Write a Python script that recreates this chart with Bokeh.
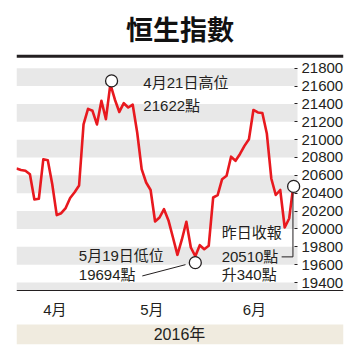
from bokeh.plotting import figure
from bokeh.models import Range1d, FixedTicker, BoxAnnotation, Label
from bokeh.embed import file_html
from bokeh.resources import INLINE

# ---------------- data ----------------
title_text = "恒生指數"
dates = ["3/18", "3/21", "3/22", "3/23", "3/24", "3/29", "3/30", "3/31",
         "4/1", "4/5", "4/6", "4/7", "4/8", "4/11", "4/12", "4/13", "4/14", "4/15",
         "4/18", "4/19", "4/20", "4/21", "4/22", "4/25", "4/26", "4/27", "4/28", "4/29",
         "5/3", "5/4", "5/5", "5/6", "5/9", "5/10", "5/11", "5/12", "5/13",
         "5/16", "5/17", "5/18", "5/19", "5/20", "5/23", "5/24", "5/25", "5/26", "5/27",
         "5/30", "5/31", "6/1", "6/2", "6/3", "6/6", "6/7", "6/8", "6/9", "6/10",
         "6/13", "6/14", "6/15", "6/16", "6/17", "6/20"]
hsi = [20677, 20660, 20651, 20613, 20330, 20337, 20781, 20770,
       20500, 20154, 20176, 20234, 20346, 20410, 20486, 21170, 21345, 21323,
       21170, 21435, 21229, 21622, 21450, 21310, 21408, 21360, 21391, 21080,
       20669, 20520, 20436, 20083, 20128, 20221, 20095, 19904, 19710,
       19882, 20080, 19792, 19694, 19818, 19773, 19811, 20352, 20378, 20557,
       20595, 20809, 20763, 20840, 20930, 21005, 21332, 21304, 21298, 21069,
       20565, 20380, 20436, 20016, 20117, 20510]
y_ticks = [19400, 19600, 19800, 20000, 20200, 20400, 20600, 20800,
           21000, 21200, 21400, 21600, 21800]
month_labels = ["4月", "5月", "6月"]
year_label = "2016年"
high_text = ["4月21日高位", "21622點"]
low_text = ["5月19日低位", "19694點"]
last_text = ["昨日收報", "20510點", "升340點"]

# ---------------- layout ----------------
W, H = 358, 356
FRAME_L, FRAME_T, FW, FH = 16, 52, 327, 290
PLOT_R = 297                        # right edge of the striped area
PLOT_B = 288                        # bottom rule
PX_IDX = 4.47                       # px per trading day
PPU = (280 - 65.7) / 2400.0         # px per index point
Y_TOP = 21800 + (65.7 - FRAME_T) / PPU
Y_BOT = Y_TOP - FH / PPU
month_pos = [8.6, 30.3, 53.2]

INK = "#231f20"
RED = "#e8191f"
BAND = "#e8e8e8"
BEIGE = "#f0ebdf"
FONT = "Liberation Sans, Noto Sans CJK TC"
CJK = "Noto Sans CJK TC"


def cx(px):
    return (px - FRAME_L) / PX_IDX


def cy(py):
    return Y_TOP - (py - FRAME_T) / PPU


p = figure(frame_width=FW, frame_height=FH,
           min_border_left=FRAME_L, min_border_right=W - FRAME_L - FW,
           min_border_top=FRAME_T, min_border_bottom=H - FRAME_T - FH,
           x_range=Range1d(0, FW / PX_IDX), y_range=Range1d(Y_BOT, Y_TOP),
           y_axis_location="right", output_backend="svg", toolbar_location=None,
           background_fill_color="white", border_fill_color="white",
           outline_line_color=None)
p.grid.visible = False

# title
p.title.text = title_text
p.title.align = "center"
p.title.text_font = CJK
p.title.text_font_style = "bold"
p.title.text_font_size = "27px"
p.title.text_color = "#111111"
p.title.standoff = 13

# stripes
for v in range(19200, 21800, 400):
    p.add_layout(BoxAnnotation(left=None, right=cx(PLOT_R),
                               bottom=max(v, cy(PLOT_B)), top=v + 200,
                               fill_color=BAND, fill_alpha=1, line_color=None,
                               level="underlay"))

# rules and year band
p.add_layout(BoxAnnotation(top=None, bottom=cy(55.3), fill_color=INK, fill_alpha=1,
                           line_color=None))
p.add_layout(BoxAnnotation(top=cy(PLOT_B - 0.6), bottom=cy(PLOT_B + 0.6),
                           fill_color=INK, fill_alpha=1, line_color=None))
p.add_layout(BoxAnnotation(top=cy(322), bottom=None, fill_color=BEIGE, fill_alpha=1,
                           line_color=None, level="underlay"))

# axes
ya = p.yaxis[0]
ya.ticker = FixedTicker(ticks=y_ticks)
ya.axis_line_color = None
ya.major_tick_in = 49
ya.major_tick_out = -(FRAME_L + FW - PLOT_R)
ya.major_tick_line_color = INK
ya.minor_tick_line_color = None
ya.major_label_standoff = -42
ya.major_label_text_font = FONT
ya.major_label_text_font_size = "15px"
ya.major_label_text_color = INK

xa = p.xaxis[0]
xa.ticker = FixedTicker(ticks=month_pos)
xa.major_label_overrides = {pos: lab for pos, lab in zip(month_pos, month_labels)}
xa.axis_line_color = None
xa.major_tick_line_color = None
xa.major_tick_out = 0
xa.major_tick_in = 0
xa.minor_tick_line_color = None
xa.major_label_standoff = -44
xa.major_label_text_font = FONT
xa.major_label_text_font_size = "15px"
xa.major_label_text_color = INK

# index line
xs = list(range(len(hsi)))
p.line(xs, hsi, line_color=RED, line_width=2.6, line_join="round")

hi_i = hsi.index(max(hsi))
lo_i = hsi.index(min(hsi))
la_i = len(hsi) - 1


def dx(px):
    return px / PX_IDX


def dy(px):  # canvas px downward -> data units
    return -px / PPU


# leader lines
p.segment(x0=[lo_i + dx(-53), la_i + dx(-0.7), la_i + dx(-12)],
          y0=[hsi[lo_i] + dy(19.7), hsi[la_i] + dy(9), hsi[la_i] + dy(73.5)],
          x1=[lo_i + dx(-9.8), la_i + dx(-0.7), la_i + dx(-0.7)],
          y1=[hsi[lo_i] + dy(8.4), hsi[la_i] + dy(73.5), hsi[la_i] + dy(73.5)],
          line_color=INK, line_width=1)

# circles
p.scatter(x=[hi_i + dx(1.2), lo_i, la_i],
          y=[hsi[hi_i] + dy(-3.2), hsi[lo_i] + dy(6.4), hsi[la_i] + dy(3)],
          size=12, fill_color="white", line_color=INK, line_width=1.3)


def label(x, y, text, size="15px", align="left"):
    p.add_layout(Label(x=x, y=y, text=text, text_font=FONT,
                       text_font_size=size, text_color=INK, text_align=align,
                       text_baseline="middle"))


label(hi_i + dx(33), hsi[hi_i] + dy(-2), high_text[0])
label(hi_i + dx(33), hsi[hi_i] + dy(21), high_text[1])
label(lo_i + dx(-116.5), hsi[lo_i] + dy(-1), low_text[0])
label(lo_i + dx(-116.5), hsi[lo_i] + dy(18), low_text[1])
label(la_i + dx(-72), hsi[la_i] + dy(49), last_text[0])
label(la_i + dx(-72), hsi[la_i] + dy(73), last_text[1])
label(la_i + dx(-72), hsi[la_i] + dy(91), last_text[2])
label(cx(179), cy(332), year_label, size="16px", align="center")

open("out.html", "w").write(file_html(p, INLINE))
